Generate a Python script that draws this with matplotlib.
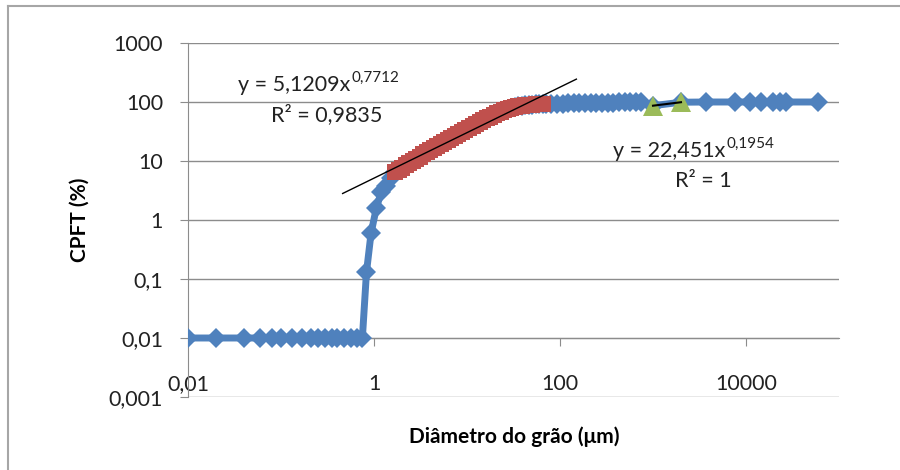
import numpy as np
import matplotlib.pyplot as plt
from matplotlib.lines import Line2D

plt.rcParams['font.family'] = ['Lato', 'DejaVu Sans']

# Distribuição granulométrica - CPFT x diâmetro (escala log-log)

# parte fina (sem material -> 0,01) e subida
diam_fino = [0.01, 0.02, 0.04, 0.06, 0.08, 0.1, 0.13, 0.17, 0.21, 0.25, 0.3,
             0.35, 0.4, 0.48, 0.57, 0.66, 0.75, 0.83, 0.93, 1.06, 1.2, 1.34, 1.52]
cpft_fino = [0.01, 0.01, 0.01, 0.01, 0.01, 0.01, 0.01, 0.01, 0.01, 0.01, 0.01,
             0.01, 0.01, 0.01, 0.01, 0.01, 0.01, 0.13, 0.6, 1.6, 3.0, 3.8, 5.2]

# faixa ajustada (vermelho)
diam_ajuste = [1.7, 1.85, 2.0, 2.2, 2.4, 2.6, 2.85, 3.1, 3.4, 3.7, 4.0, 4.4, 4.8,
               5.2, 5.7, 6.2, 6.8, 7.4, 8.1, 8.8, 9.6, 10.5, 11.5, 12.5, 13.7,
               15, 16.3, 17.8, 19.5, 21.2, 23.1, 25.2, 27.5, 30, 32.7, 35.6,
               38.8, 42.3, 46.1, 50.3, 54.8, 59.7, 65]
cpft_ajuste = [6.5, 7.0, 7.7, 8.5, 9.3, 10.1, 11.0, 11.9, 13.0, 14.0, 15.1, 16.4,
               17.8, 19.2, 20.9, 22.6, 24.6, 26.6, 28.9, 31.2, 33.8, 36.6, 39.6,
               42.6, 46.0, 49.6, 53.0, 56.7, 60.6, 64.3, 68.1, 71.9, 75.5, 78.9,
               81.9, 84.5, 86.6, 88.3, 89.6, 90.6, 91.3, 91.8, 92.2]

# parte grossa
diam_medio = [71, 81, 93, 107, 123, 141, 162, 186, 214, 246, 283, 325, 373,
              430, 494, 568, 653, 750]
cpft_medio = [92.5, 93, 93.5, 94, 94.5, 95, 95.5, 96, 96.5, 97, 97.3, 97.6,
              98, 98.3, 98.6, 98.9, 99.1, 99.3]

# segundo ajuste (verde)
diam_verde = [1000, 2000]
cpft_verde = [86.6, 99.1]

diam_grosso = [3750, 7680, 11100, 14600, 19600, 23300, 27100, 59700]
cpft_grosso = [100, 100, 100, 100, 100, 100, 100, 100]

diam_total = diam_fino + diam_ajuste + diam_medio + diam_verde + diam_grosso
cpft_total = cpft_fino + cpft_ajuste + cpft_medio + cpft_verde + cpft_grosso

# linhas de tendência (potência)
tend1_x = np.array([0.46, 150])
tend1_y = 5.1209 * tend1_x ** 0.7712
tend2_x = np.array([1000, 2000])
tend2_y = 22.451 * tend2_x ** 0.1954

fig = plt.figure(figsize=(9, 4.7), dpi=100)
ax = fig.add_axes([188/900, 1 - 397/470, (839-188)/900, (397-43)/470])

cinza = '#8c8c8c'
ax.plot(diam_total, cpft_total, color='#4F81BD', lw=5, marker='D', ms=10,
        mew=0, zorder=3)
ax.plot(diam_ajuste, cpft_ajuste, color='#C0504D', lw=0, marker='s', ms=12,
        mew=0, zorder=4)
ax.plot(diam_verde, cpft_verde, color='#9BBB59', lw=0, marker='^', ms=14,
        mew=0, zorder=4)
ax.plot(tend1_x, tend1_y, color='black', lw=1, zorder=5)
ax.plot(tend2_x, tend2_y, color='black', lw=1.5, zorder=5)

ax.set_xscale('log')
ax.set_yscale('log')
ax.set_xlim(0.01, 1e5)
ax.set_ylim(0.001, 1000)

y_ticks = [0.001, 0.01, 0.1, 1, 10, 100, 1000]
y_labels = ['0,001', '0,01', '0,1', '1', '10', '100', '1000']
x_ticks = [0.01, 1, 100, 10000]
x_labels = ['0,01', '1', '100', '10000']

ax.set_yticks(y_ticks)
ax.set_yticklabels(y_labels)
ax.set_xticks(x_ticks)
ax.set_xticklabels(x_labels)
ax.minorticks_off()

ax.yaxis.grid(True, color=cinza, lw=1)
ax.set_axisbelow(True)
for s in ['top', 'right']:
    ax.spines[s].set_visible(False)
ax.spines['left'].set_color(cinza)
ax.spines['bottom'].set_color(cinza)
ax.spines['bottom'].set_position(('data', 0.01))
ax.tick_params(axis='y', length=6, color=cinza, labelsize=15.5, pad=12,
               labelcolor='#222222')
ax.tick_params(axis='x', length=6, color=cinza, labelsize=15.5, pad=20,
               labelcolor='#222222')

ax.set_ylabel('CPFT (%)', fontsize=15, fontweight='bold', labelpad=14)
fig.text(514/900, 1 - 437/470, 'Diâmetro do grão (μm)', fontsize=15,
         fontweight='bold', ha='center', va='center')

# equações
t1 = fig.text(238/900, 1 - 85/470, 'y = 5,1209x', fontsize=15.5,
              ha='left', va='center', color='#222222')
ax.annotate('0,7712', xy=(1, 0.5), xycoords=t1, xytext=(1, 0),
            textcoords='offset points', fontsize=11, ha='left', va='bottom',
            color='#222222')
fig.text(327/900, 1 - 115/470, 'R² = 0,9835', fontsize=15.5,
         ha='center', va='center', color='#222222')

t2 = fig.text(613/900, 1 - 151/470, 'y = 22,451x', fontsize=15.5,
              ha='left', va='center', color='#222222')
ax.annotate('0,1954', xy=(1, 0.5), xycoords=t2, xytext=(1, 0),
            textcoords='offset points', fontsize=11, ha='left', va='bottom',
            color='#222222')
fig.text(703/900, 1 - 181/470, 'R² = 1', fontsize=15.5,
         ha='center', va='center', color='#222222')

# moldura do gráfico
moldura = '#a6a6a6'
fig.add_artist(Line2D([8/900, 1], [1 - 6/470, 1 - 6/470],
                      transform=fig.transFigure, color=moldura, lw=1.5))
fig.add_artist(Line2D([8/900, 8/900], [0, 1 - 6/470],
                      transform=fig.transFigure, color=moldura, lw=1.5))

fig.savefig('out.png', dpi=100)
